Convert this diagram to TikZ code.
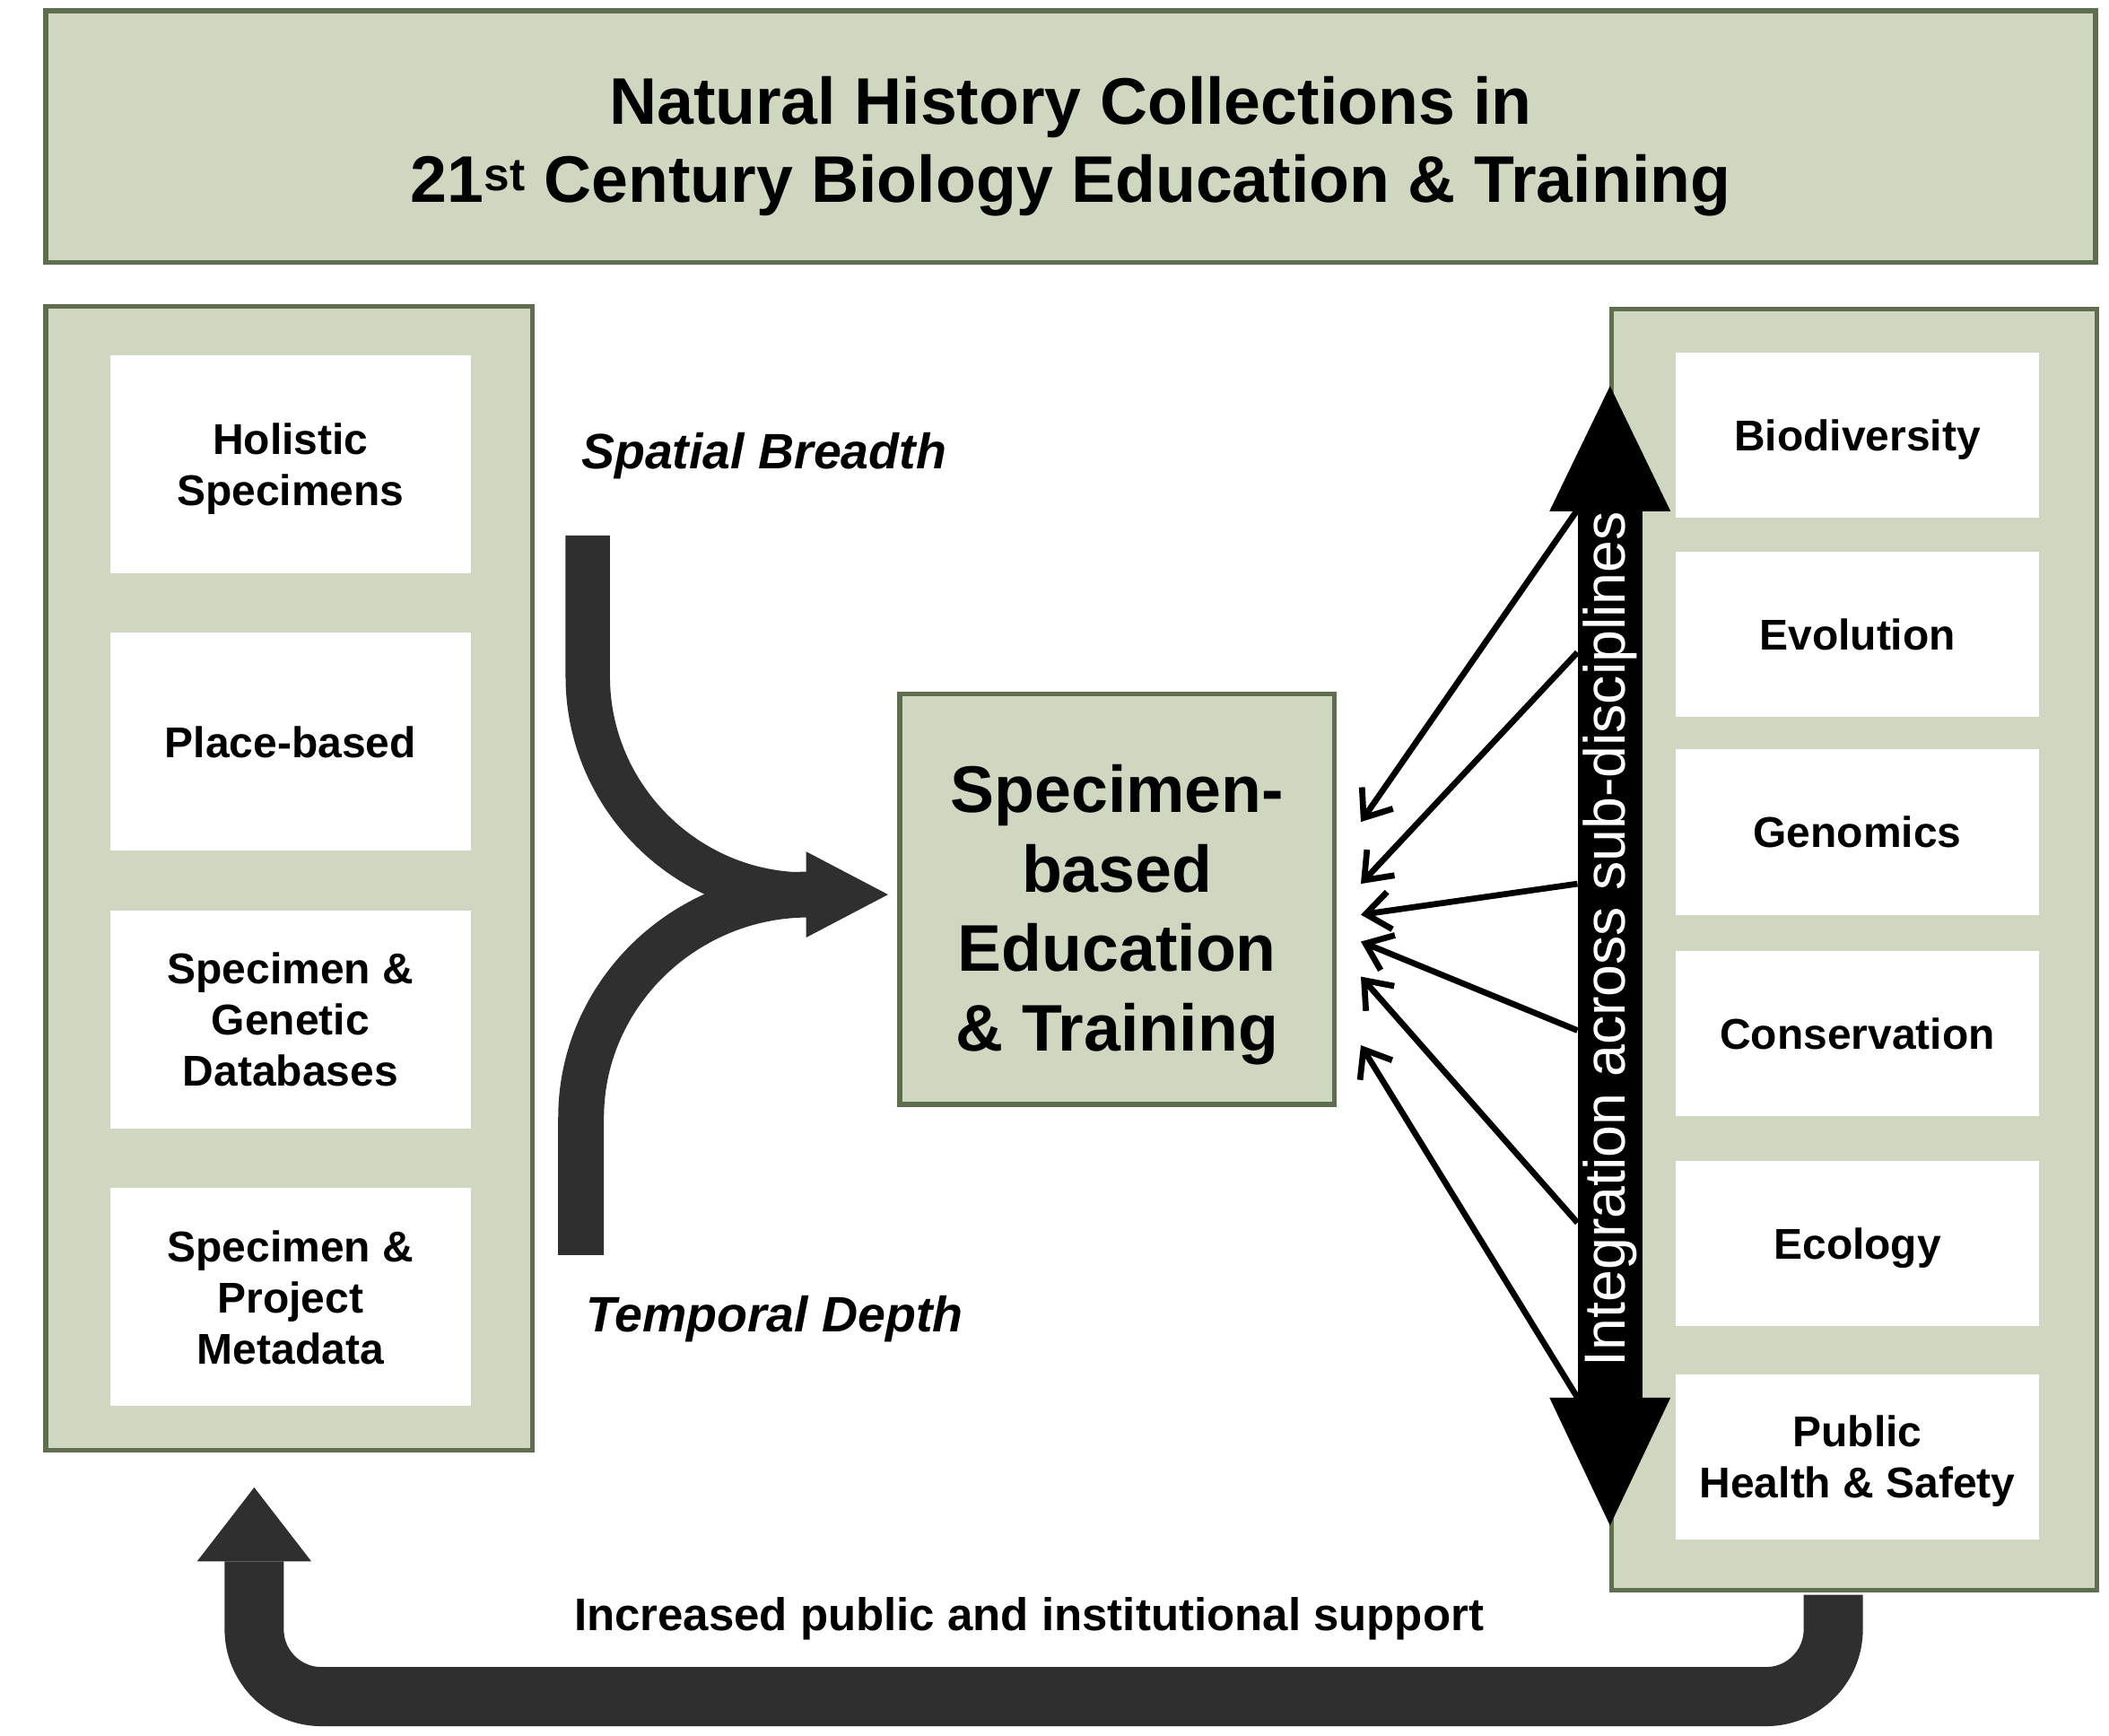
\documentclass[tikz,border=0pt]{standalone}
\usepackage{fontspec}
\setmainfont{Liberation Sans}
\usetikzlibrary{arrows.meta, positioning}

\definecolor{sage}{RGB}{207,215,193}
\definecolor{panelborder}{RGB}{95,110,78}
\definecolor{arrowgrey}{RGB}{47,47,47}

\begin{document}
\begin{tikzpicture}[
        x=1pt, y=-1pt,
        node distance=44pt,
        panel/.style={draw=panelborder, line width=3.5pt, fill=sage, inner sep=0pt, text depth=0pt},
        itembox/.style={fill=white, inner sep=0pt, text depth=0pt, align=center, font=\fontsize{32}{38}\selectfont\bfseries},
        leftitem/.style={itembox, minimum width=268pt, minimum height=162pt},
        rightitem/.style={itembox, minimum width=270pt, minimum height=123pt},
        caption/.style={inner sep=0pt, text depth=0pt, font=\fontsize{37}{44}\selectfont\bfseries\itshape},
        bigarrow/.style={draw=arrowgrey, line width=33pt},
        fanarrow/.style={-{Straight Barb[length=18pt, width=28pt]}, line width=4.5pt}
    ]
    \useasboundingbox (0,0) rectangle (1568,1290.5);

    % Nodes
    \node[panel, minimum width=1524pt, minimum height=187pt, text height=98pt, align=center, font=\fontsize{49}{58}\selectfont\bfseries] (title) at (796,101.5) {Natural History Collections in\\21\textsuperscript{st} Century Biology Education \& Training};

    \node[panel, minimum width=362pt, minimum height=850pt] (leftpanel) at (215,653) {};
    \node[leftitem] (holistic) at (216,345) {Holistic\\Specimens};
    \node[leftitem, below=of holistic] (place) {Place-based};
    \node[leftitem, below=of place] (genetic) {Specimen \&\\Genetic\\Databases};
    \node[leftitem, below=of genetic] (metadata) {Specimen \&\\Project\\Metadata};

    \node[panel, minimum width=361pt, minimum height=952pt] (rightpanel) at (1378.5,706) {};
    \foreach \name/\ypos/\txt in {biodiversity/323.5/Biodiversity, evolution/471.5/Evolution, genomics/618.5/Genomics, conservation/768.5/Conservation, ecology/924.5/Ecology, health/1083/{Public\\Health \& Safety}}
        \node[rightitem] (\name) at (1381,\ypos) {\txt};

    \node[panel, minimum width=323pt, minimum height=305pt, text height=225pt, align=center, font=\fontsize{49}{59}\selectfont\bfseries] (centre) at (830.5,668.5) {Specimen-\\based\\Education\\\& Training};

    \node[caption] (spatial) at (568,335) {Spatial Breadth};
    \node[caption] (temporal) at (576,977) {Temporal Depth};
    \node[inner sep=0pt, text depth=0pt, font=\fontsize{34}{40}\selectfont\bfseries] (support) at (765,1200) {Increased public and institutional support};

    % Arrows
    \coordinate (spatialtop) at (437,398);
    \coordinate (temporalbottom) at (432,933);
    \draw[bigarrow] (spatialtop) -- (437,503) .. controls (437,592) and (510,665) .. (599,665);
    \draw[bigarrow, line width=34pt, -{Triangle[length=61pt, width=64pt, line width=0pt]}] (temporalbottom) -- (432,831) .. controls (432,739) and (509,665) .. (601,665) -- ([xshift=-7pt, yshift=3.5pt]centre.west);

    \draw[bigarrow, line width=44pt, rounded corners=50pt, -{Triangle[length=55pt, width=85pt, line width=0pt]}] ([xshift=-15.5pt, yshift=-1.75pt]rightpanel.south) -- ++(0,75.75) -| ([xshift=-26pt, yshift=-26pt]leftpanel.south);

    \coordinate (inttop) at (1197,287);
    \coordinate (intbottom) at (1197,1134);
    \draw[line width=48pt, {Triangle[length=93pt, width=90pt, line width=0pt]}-{Triangle[length=95pt, width=90pt, line width=0pt]}] (inttop) -- (intbottom);
    \node[rotate=90, text=white, inner sep=0pt, minimum height=48pt, font=\fontsize{43}{50}\selectfont] (intlabel) at (1197,698) {Integration across sub-disciplines};

    \foreach \sy/\ty in {319/57.5, 213/11.5, 41/-11.5, -68/-31.5, -211/-57.5, -341/-108.5}
        \draw[fanarrow] ([yshift=\sy pt]intlabel.north) -- ([xshift=18pt, yshift=\ty pt]centre.east);

\end{tikzpicture}
\end{document}
